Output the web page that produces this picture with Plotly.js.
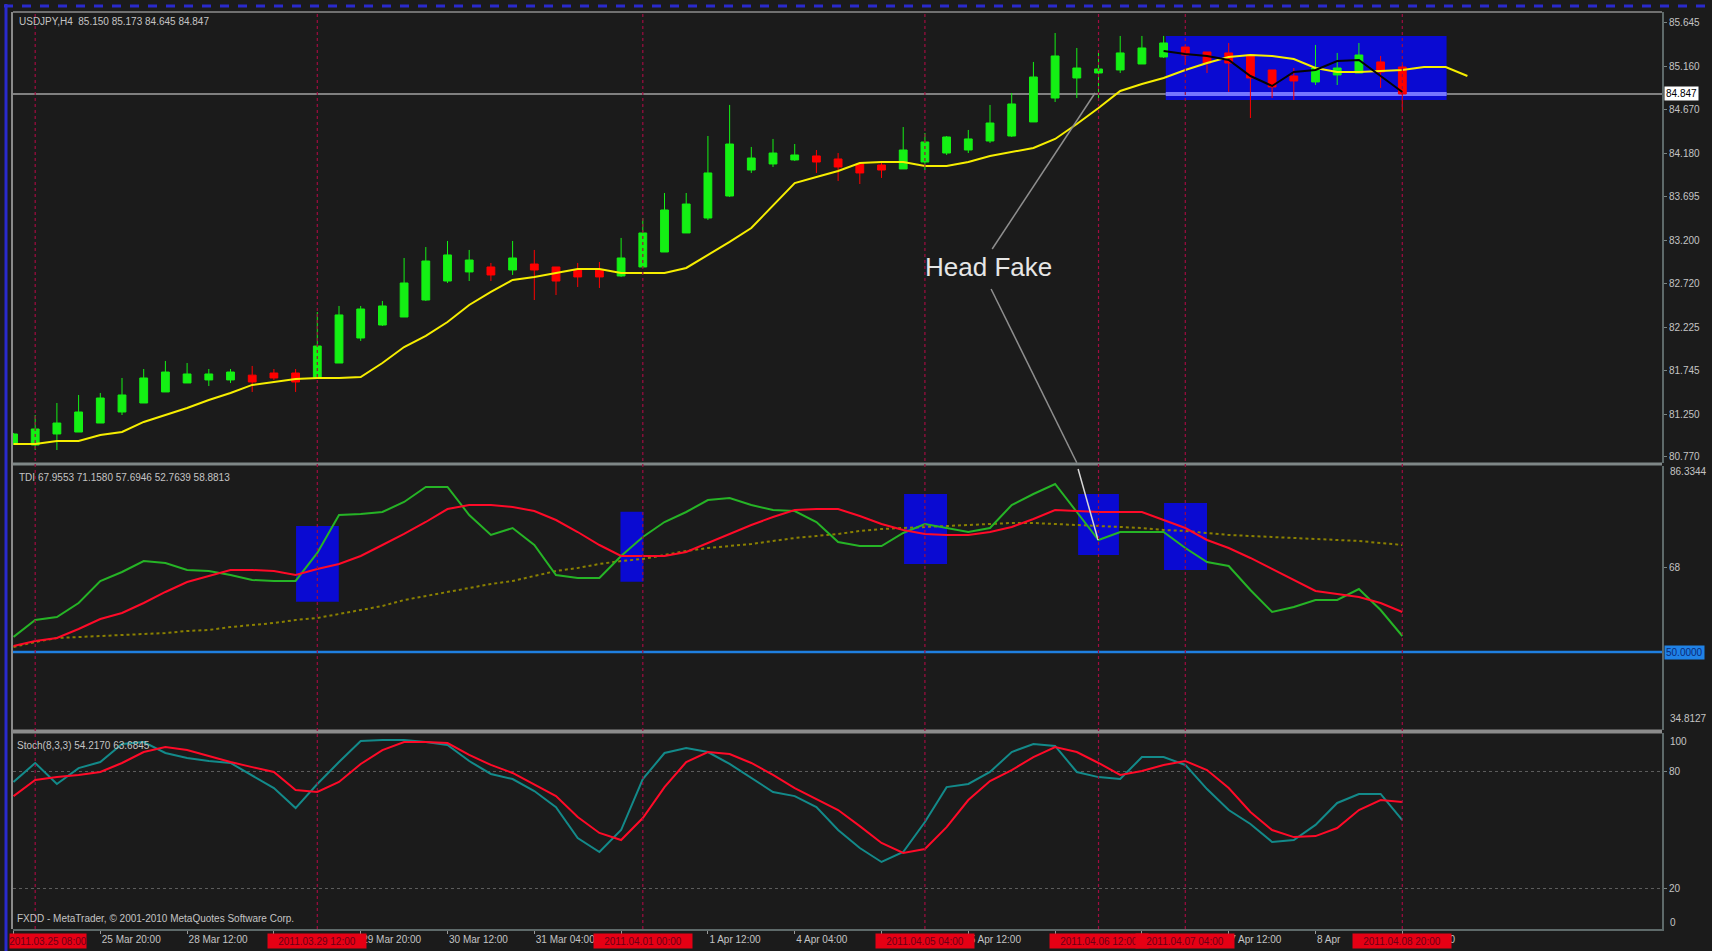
<!DOCTYPE html>
<html><head><meta charset="utf-8">
<script src="https://cdn.plot.ly/plotly-3.0.1.min.js"></script>
<style>html,body{margin:0;padding:0;background:#1b1b1b;overflow:hidden}#chart{width:1712px;height:951px;}</style>
</head><body><div id="chart"></div>
<script>
// ---------- USDJPY H4 candles (bar index 0 = 2011.03.25 04:00) ----------
const open  = [80.916,80.904,81.028,81.050,81.151,81.275,81.376,81.500,81.601,81.635,
               81.635,81.689,81.713,81.713,81.657,81.825,82.106,82.252,82.342,82.533,
               82.746,82.848,82.904,82.870,82.937,82.904,82.870,82.870,82.803,82.904,
               83.072,83.286,83.454,83.701,83.993,84.061,84.106,84.151,84.117,84.061,
               84.049,84.005,84.083,84.184,84.218,84.319,84.375,84.533,84.802,85.027,
               85.083,85.117,85.184,85.263,85.375,85.319,85.308,85.285,85.117,85.049,
               84.982,85.061,85.083,85.207,85.150];
const high  = [81.040,81.241,81.376,81.466,81.489,81.657,81.758,81.848,81.825,81.758,
               81.758,81.792,81.758,81.758,82.398,82.466,82.466,82.522,83.005,83.128,
               83.196,83.095,82.949,83.196,83.095,82.904,82.949,82.960,83.230,83.454,
               83.735,83.735,84.375,84.724,84.252,84.342,84.285,84.218,84.184,84.061,
               84.083,84.476,84.409,84.375,84.443,84.724,84.858,85.207,85.532,85.364,
               85.319,85.499,85.499,85.499,85.398,85.319,85.420,85.285,85.117,85.139,
               85.398,85.308,85.420,85.274,85.173];
const low   = [80.904,80.848,80.848,81.050,81.151,81.241,81.376,81.500,81.601,81.567,
               81.601,81.500,81.635,81.500,81.657,81.825,82.073,82.241,82.342,82.522,
               82.724,82.746,82.746,82.814,82.533,82.589,82.679,82.668,82.792,82.893,
               83.072,83.286,83.432,83.690,83.960,84.027,84.095,83.960,83.870,83.836,
               83.904,84.005,83.993,84.162,84.184,84.297,84.364,84.533,84.757,84.802,
               84.802,85.083,85.184,85.252,85.173,85.083,84.870,84.577,84.802,84.780,
               84.948,84.948,85.083,84.915,84.645];
const close = [81.028,81.084,81.151,81.275,81.432,81.466,81.657,81.724,81.702,81.702,
               81.724,81.612,81.657,81.612,82.016,82.365,82.432,82.466,82.724,82.971,
               83.039,82.982,82.814,83.005,82.870,82.746,82.792,82.792,83.005,83.286,
               83.544,83.611,83.960,84.285,84.128,84.184,84.162,84.083,84.027,83.960,
               83.993,84.218,84.308,84.364,84.342,84.521,84.735,85.038,85.274,85.139,
               85.128,85.308,85.364,85.420,85.285,85.195,85.195,85.027,84.926,84.993,
               85.139,85.139,85.285,85.094,84.847];
// shifted moving average (yellow), extends past the last bar
const maYellow = [80.916,80.916,80.949,80.949,81.017,81.050,81.163,81.241,81.320,81.410,
                  81.489,81.579,81.612,81.646,81.657,81.657,81.668,81.825,82.005,82.129,
                  82.286,82.477,82.623,82.758,82.792,82.836,82.881,82.881,82.836,82.836,
                  82.836,82.893,83.039,83.185,83.342,83.589,83.847,83.915,83.982,84.072,
                  84.083,84.083,84.038,84.038,84.083,84.151,84.196,84.241,84.342,84.510,
                  84.690,84.881,84.959,85.027,85.117,85.195,85.263,85.285,85.274,85.240,
                  85.139,85.094,85.094,85.105,85.117,85.150,85.150,85.049];
// dark line visible only inside the blue box
const maBlackStart = 53;
const maBlack = [85.330,85.296,85.274,85.229,85.049,84.937,85.094,85.117,85.218,85.229,85.049,84.870];

// ---------- TDI ----------
const tdiGreen = [53.18,56.78,57.41,60.38,65.04,66.94,69.27,68.85,67.37,67.15,
                  66.31,65.25,65.04,65.04,70.97,79.01,79.23,79.65,81.77,84.94,
                  84.94,79.01,74.78,76.26,72.66,66.31,65.67,65.67,70.33,74.35,
                  77.53,79.65,82.19,82.61,81.13,80.07,79.86,77.53,73.30,72.45,
                  72.45,75.20,77.11,76.26,75.41,76.26,81.13,83.46,85.58,79.65,
                  73.72,75.41,75.41,75.41,72.03,69.06,68.21,63.13,58.47,59.53,
                  61.01,61.01,63.34,58.89,53.39];
const tdiRed   = [51.27,52.33,52.96,54.87,56.99,58.26,60.38,62.71,64.82,66.10,
                  67.37,67.37,67.15,66.31,67.58,68.64,70.33,72.66,74.99,77.53,
                  80.28,81.13,81.13,80.71,79.86,77.95,75.41,72.66,70.33,70.33,
                  70.33,71.18,73.08,74.99,76.90,78.59,80.07,80.28,80.28,78.80,
                  77.11,75.84,74.99,74.78,74.78,75.41,76.47,78.17,80.07,79.86,
                  79.65,79.65,79.65,77.95,76.26,73.72,72.03,69.91,67.58,65.25,
                  62.92,62.28,61.65,60.38,58.47];
const tdiBase  = [51.06,52.12,52.96,53.18,53.39,53.60,53.81,54.02,54.45,54.66,
                  55.29,55.72,56.14,56.78,57.20,58.05,58.89,59.74,61.01,61.86,
                  62.71,63.55,64.40,65.04,66.10,67.15,67.79,68.64,69.27,69.70,
                  70.54,71.39,72.03,72.45,72.87,73.51,74.14,74.57,74.99,75.63,
                  76.05,76.26,76.47,76.68,76.90,77.11,77.32,77.32,77.11,76.90,
                  76.68,76.47,76.26,75.84,75.63,75.20,74.78,74.57,74.35,74.14,
                  73.93,73.72,73.51,73.08,72.66];
const tdiLevel = 50;

// ---------- Stochastic ----------
const stochMain = [74.5,84.2,73.5,81.6,84.7,93.9,94.9,89.3,86.7,85.2,
                   84.2,77.6,71.4,61.2,73.5,84.7,95.4,95.9,95.9,94.9,
                   93.4,85.2,78.6,76.0,69.9,61.7,45.9,38.8,50.0,76.0,
                   89.3,91.8,89.8,83.7,76.5,69.4,67.3,61.7,50.0,40.8,
                   33.7,38.8,54.1,71.9,73.5,79.6,89.8,93.9,92.9,79.6,
                   77.0,76.0,87.2,87.2,83.2,70.9,60.2,53.1,43.9,44.9,
                   52.6,63.8,68.4,68.4,55.1];
const stochSignal = [67.3,75.5,77.0,78.1,79.6,84.2,89.8,92.3,90.8,87.8,
                     84.7,82.1,79.6,70.4,69.4,74.5,83.7,90.8,94.9,94.9,
                     94.4,88.3,83.2,79.1,73.0,67.3,56.6,48.5,44.9,56.1,
                     71.9,84.7,89.8,88.8,84.2,78.1,71.4,65.8,60.2,52.0,
                     43.4,38.3,40.3,51.5,65.3,75.0,80.6,87.2,92.3,89.8,
                     84.2,78.1,80.1,83.2,85.2,80.6,71.4,59.2,50.0,46.4,
                     46.9,51.0,60.2,65.3,64.3];
const stochLevels = [20, 80];

// ---------- axis labels ----------
const priceTicks = [80.770,81.250,81.745,82.225,82.720,83.200,83.695,84.180,84.670,85.160,85.645];
// time ticks every 4 bars; only the part of each label left visible by the date boxes is written
const timeTickBars = [0,4,8,12,16,20,24,28,32,36,40,44,48,52,56,60,64];
const timeTickLabels = ['','25 Mar 20:00','28 Mar 12:00','','29 Mar 20:00',
  '30 Mar 12:00','31 Mar 04:00','','1 Apr 12:00','4 Apr 04:00','',
  '5 Apr 12:00','','','7 Apr 12:00','8 Apr','8 Apr 20:00'];
const vLineBars = [1,14,29,42,50,54,64];
const vLineLabels = ['2011.03.25 08:00','2011.03.29 12:00','2011.04.01 00:00','2011.04.05 04:00',
  '2011.04.06 12:00','2011.04.07 04:00','2011.04.08 20:00'];

// ---------- page geometry helpers (decorations only) ----------
const W=1712, H=951, ML=13, MR=50, MT=12, MB=22;
const PW=W-ML-MR, PH=H-MT-MB;
const px = X => (X-ML)/PW;
const py = Y => 1-(Y-MT)/PH;

const bars = open.map((_, i) => i);
const maBars = maYellow.map((_, i) => i);
const blackBars = maBlack.map((_, i) => maBlackStart + i);
const lastClose = close[close.length-1];

const FONT = 'Liberation Sans, Arial, sans-serif';
const TXT = '#c4c4c4';

const traces = [
  {type:'candlestick', x:bars, open:open, high:high, low:low, close:close,
   xaxis:'x', yaxis:'y', hoverinfo:'skip', whiskerwidth:0,
   increasing:{line:{color:'#14f014', width:1}, fillcolor:'#14f014'},
   decreasing:{line:{color:'#ff0000', width:1}, fillcolor:'#ff0000'}},
  {type:'scatter', mode:'lines', x:maBars, y:maYellow, xaxis:'x', yaxis:'y',
   line:{color:'#f6ee00', width:2}, hoverinfo:'skip'},
  {type:'scatter', mode:'lines', x:blackBars, y:maBlack, xaxis:'x', yaxis:'y',
   line:{color:'#050505', width:2}, hoverinfo:'skip'},
  {type:'scatter', mode:'lines', x:bars, y:tdiBase, xaxis:'x', yaxis:'y2',
   line:{color:'#8a8000', width:2, dash:'dot'}, hoverinfo:'skip'},
  {type:'scatter', mode:'lines', x:bars, y:tdiGreen, xaxis:'x', yaxis:'y2',
   line:{color:'#26b426', width:2}, hoverinfo:'skip'},
  {type:'scatter', mode:'lines', x:bars, y:tdiRed, xaxis:'x', yaxis:'y2',
   line:{color:'#ff0a28', width:2}, hoverinfo:'skip'},
  {type:'scatter', mode:'lines', x:bars, y:stochMain, xaxis:'x', yaxis:'y3',
   line:{color:'#138a8a', width:2}, hoverinfo:'skip'},
  {type:'scatter', mode:'lines', x:bars, y:stochSignal, xaxis:'x', yaxis:'y3',
   line:{color:'#ff0a28', width:2}, hoverinfo:'skip'}
];

const BLUE = '#0a0ad2';
const shapes = [
  // main-window rectangle
  {type:'rect', xref:'x', yref:'y', x0:53.1, x1:66.04, y0:84.780, y1:85.499, fillcolor:BLUE, line:{width:0}, layer:'below'},
  // TDI rectangles
  {type:'rect', xref:'x', yref:'y2', x0:13.02, x1:14.99, y0:60.65, y1:76.68, fillcolor:BLUE, line:{width:0}, layer:'below'},
  {type:'rect', xref:'x', yref:'y2', x0:27.97, x1:29.03, y0:64.89, y1:79.71, fillcolor:BLUE, line:{width:0}, layer:'below'},
  {type:'rect', xref:'x', yref:'y2', x0:41.04, x1:43.02, y0:68.64, y1:83.46, fillcolor:BLUE, line:{width:0}, layer:'below'},
  {type:'rect', xref:'x', yref:'y2', x0:49.06, x1:50.94, y0:70.54, y1:83.46, fillcolor:BLUE, line:{width:0}, layer:'below'},
  {type:'rect', xref:'x', yref:'y2', x0:53.02, x1:55.00, y0:67.37, y1:81.56, fillcolor:BLUE, line:{width:0}, layer:'below'},
  // bid line
  {type:'line', xref:'paper', yref:'y', x0:0, x1:1, y0:lastClose, y1:lastClose, line:{color:'#808080', width:2}, layer:'below'},
  {type:'line', xref:'x', yref:'y', x0:53.1, x1:66.04, y0:lastClose, y1:lastClose, line:{color:'#7676ff', width:4}, layer:'below'},
  // TDI base level
  {type:'line', xref:'paper', yref:'y2', x0:0, x1:1, y0:tdiLevel, y1:tdiLevel, line:{color:'#1f7fe0', width:2.5}, layer:'below'},
  // Head Fake pointer lines
  {type:'line', xref:'x', yref:'y', x0:45.1, y0:83.106, x1:49.84, y1:84.858, line:{color:'#8e8e8e', width:1.5}},
  {type:'line', xref:'x', yref:'y', x0:45.05, y0:82.657, x1:49.0, y1:80.705, line:{color:'#8e8e8e', width:1.5}},
  {type:'line', xref:'x', yref:'y2', x0:49.06, y0:88.76, x1:49.98, y1:73.72, line:{color:'#d8d8d8', width:1.5}},
  // panel frames
  {type:'line', xref:'paper', yref:'paper', x0:0, x1:1, y0:1, y1:1, line:{color:'#707070', width:2}},
  {type:'line', xref:'paper', yref:'paper', x0:0, x1:1, y0:py(464), y1:py(464), line:{color:'#7f8787', width:3}},
  {type:'line', xref:'paper', yref:'paper', x0:0, x1:1, y0:py(731.5), y1:py(731.5), line:{color:'#8c8c8c', width:4}},
  {type:'line', xref:'paper', yref:'paper', x0:px(12), x1:px(12), y0:0, y1:1, line:{color:'#8a8a8a', width:2}},
  // window frame (blue)
  {type:'line', xref:'paper', yref:'paper', x0:px(6), x1:px(6), y0:py(4), y1:py(951), line:{color:'#2a2acc', width:3}},
  {type:'line', xref:'paper', yref:'paper', x0:px(4), x1:px(1712), y0:py(6), y1:py(6), line:{color:'#2a2acc', width:3, dash:'dash'}}
];
vLineBars.forEach(b => shapes.push({type:'line', xref:'x', yref:'paper', x0:b, x1:b, y0:0, y1:1,
  line:{color:'#a00c40', width:1.2, dash:'dot'}}));

const ann = [];
const small = (text, x, y, extra) => Object.assign({text:text, xref:'paper', yref:'paper', x:x, y:y,
  xanchor:'left', yanchor:'middle', showarrow:false, font:{family:FONT, size:10, color:TXT}}, extra||{});
ann.push(small('USDJPY,H4  ' + [open, high, low, close].map(a => a[a.length-1].toFixed(3)).join(' '), px(17), py(22)));
ann.push(small('TDI 67.9553 71.1580 57.6946 52.7639 58.8813', px(17), py(477)));
ann.push(small('Stoch(8,3,3) 54.2170 63.6845', px(15), py(745)));
ann.push(small('FXDD - MetaTrader, \u00a9 2001-2010 MetaQuotes Software Corp.', px(15), py(918)));
ann.push(small(lastClose.toFixed(3), px(1664), py(94), {bgcolor:'#ffffff', font:{family:FONT, size:10, color:'#000000'}, borderpad:1}));
ann.push(small('86.3344', px(1668), py(471)));
ann.push(small(tdiLevel.toFixed(4), px(1664), py(652), {bgcolor:'#1f82e6', font:{family:FONT, size:10, color:'#0b2a78'}, borderpad:1}));
ann.push(small('34.8127', px(1668), py(718)));
ann.push(small('100', px(1668), py(741)));
ann.push(small('0', px(1668), py(922)));
ann.push({text:'Head Fake', xref:'x', yref:'y', x:44.95, y:82.904, showarrow:false,
  font:{family:FONT, size:26, color:'#e6e6e6'}});
vLineBars.forEach((b, k) => {
  const a = {text:vLineLabels[k], xref:'x', yref:'paper', x:b, y:py(940.5), yanchor:'middle',
    showarrow:false, width:98, height:14, bgcolor:'#e60014', borderpad:0,
    font:{family:FONT, size:10, color:'#6a0016'}};
  if (k === 0) { a.xref = 'paper'; a.x = px(9); a.xanchor = 'left'; a.width = 76; }
  ann.push(a);
});

const yCommon = {side:'right', anchor:'x', showgrid:false, zeroline:false, showline:true,
  linecolor:'#5e6a6a', linewidth:2, ticks:'outside', ticklen:3, tickcolor:'#7a8585',
  tickfont:{family:FONT, size:10, color:TXT}, fixedrange:true};

const layout = {
  width:W, height:H, margin:{l:ML, r:MR, t:MT, b:MB, pad:0},
  paper_bgcolor:'#1b1b1b', plot_bgcolor:'#1b1b1b', showlegend:false,
  boxgap:0.64, boxgroupgap:0, hovermode:false,
  xaxis:{domain:[0,1], range:[-0.023, 75.967], anchor:'y3', showgrid:false, zeroline:false,
    tickmode:'array', tickvals:timeTickBars, ticktext:timeTickLabels, ticks:'outside', ticklen:3,
    tickcolor:'#9a9a9a', ticklabelposition:'outside right',
    tickfont:{family:FONT, size:10, color:TXT}, showline:true, linecolor:'#5e6a6a', linewidth:2,
    rangeslider:{visible:false}, fixedrange:true},
  yaxis:Object.assign({}, yCommon, {domain:[py(463), 1], range:[80.702, 85.768],
    tickmode:'array', tickvals:priceTicks, ticktext:priceTicks.map(v => v.toFixed(3))}),
  yaxis2:Object.assign({}, yCommon, {domain:[py(730), py(466)], range:[33.48, 89.39],
    tickmode:'array', tickvals:[68], ticktext:['68']}),
  yaxis3:Object.assign({}, yCommon, {domain:[0, py(733)], range:[-0.5, 99.5],
    tickmode:'array', tickvals:stochLevels, ticktext:stochLevels.map(String),
    showgrid:true, gridcolor:'#5c5c5c', griddash:'dot', gridwidth:1}),
  shapes:shapes, annotations:ann
};

Plotly.newPlot('chart', traces, layout, {staticPlot:true, displayModeBar:false});
</script></body></html>
